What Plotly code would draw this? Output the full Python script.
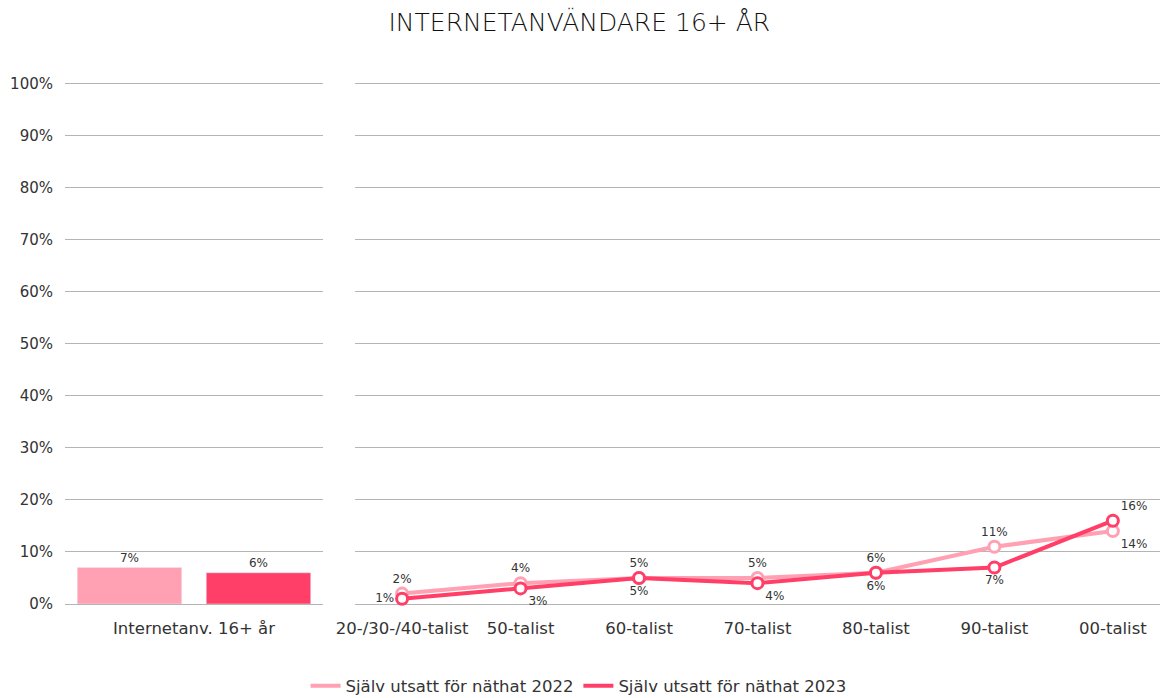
import plotly.graph_objects as go

# data
bar_category = ["Internetanv. 16+ år"]
bar_2022 = [7]
bar_2023 = [6]

generations = ["20-/30-/40-talist", "50-talist", "60-talist", "70-talist",
               "80-talist", "90-talist", "00-talist"]
line_2022 = [2, 4, 5, 5, 6, 11, 14]
line_2023 = [1, 3, 5, 4, 6, 7, 16]

series_names = ["Själv utsatt för näthat 2022", "Själv utsatt för näthat 2023"]
y_ticks = list(range(0, 101, 10))
y_labels = [f"{v}%" for v in y_ticks]

c22 = "#FFA0B3"
c23 = "#FF3F68"
grid = "#B4B4B4"
txt = "#333333"
font_main = "DejaVu Sans, Arial, sans-serif"
lbl = 12

fig = go.Figure()

fig.add_trace(go.Bar(
    x=bar_category, y=bar_2022, marker_color=c22,
    text=[f"{v}%" for v in bar_2022], textposition="outside",
    textfont=dict(size=lbl, color=txt), cliponaxis=False,
    showlegend=False, xaxis="x", yaxis="y"
))
fig.add_trace(go.Bar(
    x=bar_category, y=bar_2023, marker_color=c23,
    text=[f"{v}%" for v in bar_2023], textposition="outside",
    textfont=dict(size=lbl, color=txt), cliponaxis=False,
    showlegend=False, xaxis="x", yaxis="y"
))

pos22 = ["top center"] * 6 + ["bottom right"]
pos23 = ["middle left", "bottom right", "bottom center", "bottom right",
         "bottom center", "bottom center", "top right"]

fig.add_trace(go.Scatter(
    x=generations, y=line_2022, mode="lines+markers+text",
    line=dict(color=c22, width=4),
    marker=dict(symbol="circle", size=11, color="white",
                line=dict(color=c22, width=3)),
    text=[f"{v}%" for v in line_2022], textposition=pos22,
    textfont=dict(size=lbl, color=txt), cliponaxis=False,
    showlegend=False, xaxis="x2", yaxis="y2"
))
fig.add_trace(go.Scatter(
    x=generations, y=line_2023, mode="lines+markers+text",
    line=dict(color=c23, width=4),
    marker=dict(symbol="circle", size=11, color="white",
                line=dict(color=c23, width=3)),
    text=[f"{v}%" for v in line_2023], textposition=pos23,
    textfont=dict(size=lbl, color=txt), cliponaxis=False,
    showlegend=False, xaxis="x2", yaxis="y2"
))

# legend-only entries (line swatch without markers)
for name, col in zip(series_names, [c22, c23]):
    fig.add_trace(go.Scatter(
        x=[None], y=[None], mode="lines", name=name,
        line=dict(color=col, width=4), xaxis="x2", yaxis="y2"
    ))

yax = dict(range=[0, 100.25], tickvals=y_ticks, showgrid=True, gridcolor=grid,
           gridwidth=1, zeroline=True, zerolinecolor=grid, zerolinewidth=1,
           showline=False, fixedrange=True, automargin=False)

fig.update_layout(
    width=1161, height=698,
    paper_bgcolor="white", plot_bgcolor="white",
    margin=dict(l=65, r=1, t=82, b=94, autoexpand=False),
    font=dict(family=font_main, size=16, color=txt),
    title=dict(text="INTERNETANVÄNDARE 16+ ÅR", x=0.499, xanchor="center",
               y=0.968, yanchor="middle",
               font=dict(family="DejaVu Sans, sans-serif", size=25,
                         color="#111111", weight=200)),
    barmode="group", bargap=0.0, bargroupgap=0.19,
    xaxis=dict(domain=[0, 0.2356], type="category", showgrid=False,
               ticks="outside", ticklen=9, tickcolor="rgba(0,0,0,0)",
               tickfont=dict(size=16.5, color=txt), automargin=False),
    xaxis2=dict(domain=[0.2648, 1.0], type="category", showgrid=False,
                ticks="outside", ticklen=9, tickcolor="rgba(0,0,0,0)",
                tickfont=dict(size=16.5, color=txt), anchor="y2",
                automargin=False),
    yaxis=dict(**yax, ticktext=y_labels, tickmode="array",
               ticks="outside", ticklen=8, tickcolor="rgba(0,0,0,0)",
               tickfont=dict(size=15, color=txt)),
    yaxis2=dict(**yax, anchor="x2", showticklabels=False),
    legend=dict(orientation="h", x=0.469, xanchor="center", y=-0.157,
                yanchor="middle", font=dict(size=16.5, color=txt),
                itemwidth=30, tracegroupgap=0),
)

fig.write_html("out.html", config={"displayModeBar": False},
               post_script="document.body.style.margin='0';")
